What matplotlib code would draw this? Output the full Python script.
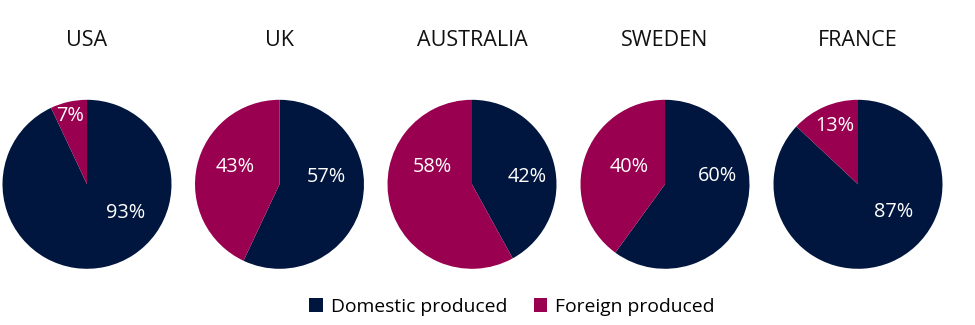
import matplotlib.pyplot as plt
from matplotlib.patches import Patch

plt.rcParams['font.family'] = ['Open Sans', 'DejaVu Sans']

countries = ['USA', 'UK', 'AUSTRALIA', 'SWEDEN', 'FRANCE']
domestic = [93, 57, 42, 60, 87]
foreign = [7, 43, 58, 40, 13]
series_names = ['Domestic produced', 'Foreign produced']

navy = '#00163f'
magenta = '#990050'

# where the percentage labels sit inside each pie (fraction of radius)
label_pos = [
    [(0.46, -0.34), (-0.20, 0.81)],
    [(0.56, 0.09), (-0.52, 0.20)],
    [(0.65, 0.09), (-0.47, 0.20)],
    [(0.62, 0.10), (-0.42, 0.20)],
    [(0.42, -0.33), (-0.28, 0.69)],
]

W, H = 975, 325
fig = plt.figure(figsize=(W / 100, H / 100), dpi=100)

centers_x = [87, 279.5, 472, 665, 858]
cy = 184.3
r = 84.5

for i, name in enumerate(countries):
    cx = centers_x[i]
    ax = fig.add_axes([(cx - r) / W, (H - cy - r) / H, 2 * r / W, 2 * r / H])
    ax.pie([domestic[i], foreign[i]], colors=[navy, magenta],
           startangle=90, counterclock=False, radius=1,
           wedgeprops=dict(linewidth=0))
    ax.set_xlim(-1, 1)
    ax.set_ylim(-1, 1)
    ax.set_aspect('equal')
    ax.axis('off')
    for val, (lx, ly) in zip([domestic[i], foreign[i]], label_pos[i]):
        ax.text(lx, ly, f'{val}%', color='white', fontsize=14.3,
                ha='center', va='center')
    fig.text(cx / W, (H - 46.5) / H, name, ha='center', va='baseline',
             fontsize=15.5, color='#111111')

handles = [Patch(facecolor=navy, edgecolor='none'),
           Patch(facecolor=magenta, edgecolor='none')]
fig.legend(handles, series_names, loc='center', bbox_to_anchor=(512 / W, (H - 307) / H),
           ncol=2, frameon=False, fontsize=13.9, handlelength=0.7, handleheight=0.7,
           handletextpad=0.4, columnspacing=1.4)

fig.savefig('out.png', dpi=100, facecolor='white')
